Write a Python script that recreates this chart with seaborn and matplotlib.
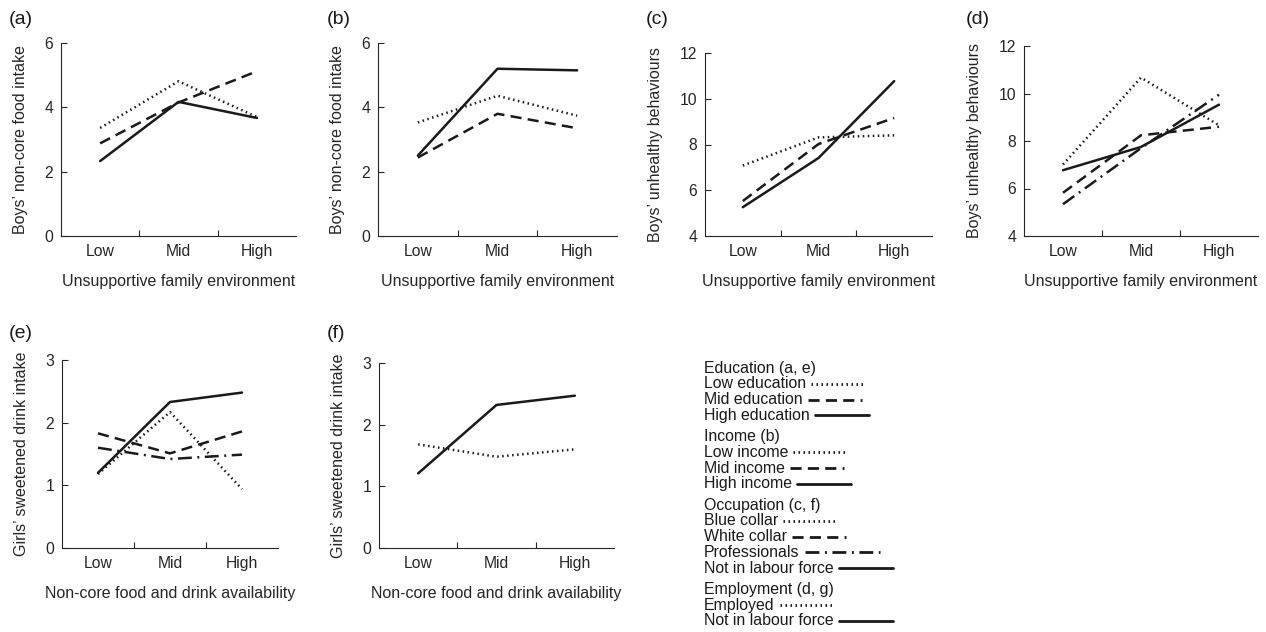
import matplotlib
matplotlib.use("Agg")
import matplotlib.pyplot as plt
import seaborn as sns
import pandas as pd

# ---------------- data ----------------
levels = ["Low", "Mid", "High"]

# (a) education
a_names = ["Low education", "Mid education", "High education"]
a_kinds = ["dotted", "dashed", "solid"]
a_low_edu = [3.36, 4.81, 3.70]
a_mid_edu = [2.88, 4.15, 5.12]
a_high_edu = [2.33, 4.17, 3.67]

# (b) income
b_names = ["Low income", "Mid income", "High income"]
b_kinds = ["dotted", "dashed", "solid"]
b_low_inc = [3.53, 4.36, 3.74]
b_mid_inc = [2.44, 3.80, 3.35]
b_high_inc = [2.50, 5.20, 5.15]

# (c) occupation
c_names = ["Blue collar", "White collar", "Not in labour force"]
c_kinds = ["dotted", "dashed", "solid"]
c_blue = [7.08, 8.31, 8.40]
c_white = [5.53, 8.02, 9.16]
c_nilf = [5.26, 7.41, 10.77]

# (d)
d_names = ["Blue collar", "White collar", "Professionals", "Not in labour force"]
d_kinds = ["dotted", "dashed", "dashdot", "solid"]
d_blue = [7.01, 10.67, 8.66]
d_white = [5.82, 8.24, 8.60]
d_prof = [5.34, 7.70, 9.95]
d_nilf = [6.77, 7.75, 9.53]

# (e)
e_names = ["Blue collar", "White collar", "Professionals", "Not in labour force"]
e_kinds = ["dotted", "dashed", "dashdot", "solid"]
e_blue = [1.18, 2.17, 0.94]
e_white = [1.83, 1.51, 1.86]
e_prof = [1.60, 1.42, 1.49]
e_nilf = [1.20, 2.33, 2.48]

# (f)
f_names = ["Employed", "Not in labour force"]
f_kinds = ["dotted", "solid"]
f_emp = [1.68, 1.48, 1.60]
f_nilf = [1.21, 2.32, 2.47]

panel_letters = ["(a)", "(b)", "(c)", "(d)", "(e)", "(f)"]
xlabel_top = "Unsupportive family environment"
xlabel_bottom = "Non-core food and drink availability"
ylabel_ab = "Boys\u2019 non-core food intake"
ylabel_cd = "Boys\u2019 unhealthy behaviours"
ylabel_ef = "Girls\u2019 sweetened drink intake"
yticks_ab = [0, 2, 4, 6]
yticks_cd = [4, 6, 8, 10, 12]
yticks_ef = [0, 1, 2, 3]

legend_groups = ["Education (a, e)", "Income (b)", "Occupation (c, f)", "Employment (d, g)"]
legend_entries = [["Low education", "Mid education", "High education"],
                  ["Low income", "Mid income", "High income"],
                  ["Blue collar", "White collar", "Professionals", "Not in labour force"],
                  ["Employed", "Not in labour force"]]
legend_kinds = [["dotted", "dashed", "solid"],
                ["dotted", "dashed", "solid"],
                ["dotted", "dashed", "dashdot", "solid"],
                ["dotted", "solid"]]

# ---------------- style ----------------
sns.set_style("ticks")
plt.rcParams["font.family"] = ["Liberation Sans", "DejaVu Sans"]
plt.rcParams["lines.scale_dashes"] = False
plt.rcParams["axes.linewidth"] = 0.8
plt.rcParams["text.color"] = "#1a1a1a"

DASHES = {"dotted": (1.1, 2.5), "dashed": (8, 4.5), "dashdot": (10, 4, 1.4, 4), "solid": ""}
LW = 1.8

W, H = 1266, 632
fig = plt.figure(figsize=(W / 100, H / 100), dpi=100)


def px_axes(l, t, r, b):
    return fig.add_axes([l / W, 1 - b / H, (r - l) / W, (b - t) / H])


def make_df(names, kinds, series):
    rows = []
    for n, k, vals in zip(names, kinds, series):
        for lev, v in zip(levels, vals):
            rows.append({"level": lev, "value": v, "series": n, "kind": k})
    return pd.DataFrame(rows)


panels = [
    ((61, 43, 296, 236), a_names, a_kinds, [a_low_edu, a_mid_edu, a_high_edu], yticks_ab, ylabel_ab, xlabel_top, (9, 19)),
    ((378, 43, 617, 236), b_names, b_kinds, [b_low_inc, b_mid_inc, b_high_inc], yticks_ab, ylabel_ab, xlabel_top, (327, 19)),
    ((705, 53, 932, 236), c_names, c_kinds, [c_blue, c_white, c_nilf], yticks_cd, ylabel_cd, xlabel_top, (646, 19)),
    ((1024, 46, 1258, 236), d_names, d_kinds, [d_blue, d_white, d_prof, d_nilf], yticks_cd, ylabel_cd, xlabel_top, (966, 19)),
    ((62, 360, 278, 548), e_names, e_kinds, [e_blue, e_white, e_prof, e_nilf], yticks_ef, ylabel_ef, xlabel_bottom, (9, 334)),
    ((379, 363, 614, 548), f_names, f_kinds, [f_emp, f_nilf], yticks_ef, ylabel_ef, xlabel_bottom, (327, 334)),
]

for letter, (box, names, kinds, series, yt, ylab, xlab, lpos) in zip(panel_letters, panels):
    ax = px_axes(*box)
    df = make_df(names, kinds, series)
    sns.lineplot(data=df, x="level", y="value", style="kind", dashes=DASHES,
                 color="#1a1a1a", linewidth=LW, estimator=None, sort=False,
                 legend=False, ax=ax)
    ax.set_xlim(-0.5, 2.5)
    ax.set_ylim(yt[0], yt[-1])
    ax.set_xticks(range(len(levels)))
    ax.set_xticklabels(levels)
    ax.set_xticks([0.5, 1.5], minor=True)
    ax.set_yticks(yt)
    ax.tick_params(axis="x", which="major", length=0, pad=5.5, labelsize=11.3)
    ax.tick_params(axis="x", which="minor", direction="in", length=4, width=0.8)
    ax.tick_params(axis="y", direction="in", length=4, width=0.8, pad=5.5, labelsize=11.3)
    ax.set_xlabel(xlab, fontsize=11.5, labelpad=11)
    ax.set_ylabel(ylab, fontsize=11.5, labelpad=12)
    sns.despine(ax=ax)
    fig.text(lpos[0] / W, 1 - lpos[1] / H, letter, fontsize=14, ha="left", va="center")

# ---------------- legend ----------------
lax = px_axes(700, 355, 910, 632)
lax.set_xlim(700, 910)
lax.set_ylim(632, 355)
lax.axis("off")

renderer = fig.canvas.get_renderer()
y = 368
LEG_FS = 11.4
STEP = 15.8
for gi, (grp, entries, kinds) in enumerate(zip(legend_groups, legend_entries, legend_kinds)):
    if gi > 0:
        y += 5.3
    lax.text(704, y, grp, fontsize=LEG_FS, ha="left", va="center")
    y += STEP
    for name, kind in zip(entries, kinds):
        t = lax.text(704, y, name, fontsize=LEG_FS, ha="left", va="center")
        bb = t.get_window_extent(renderer=renderer)
        x0 = lax.transData.inverted().transform((bb.x1, 0))[0] + 5
        length = 75 if kind == "dashdot" else 54
        ln, = lax.plot([x0, x0 + length], [y, y], color="#1a1a1a", linewidth=2.0)
        if DASHES[kind]:
            ln.set_dashes(DASHES[kind])
        y += STEP

fig.savefig("out.png", dpi=100)
